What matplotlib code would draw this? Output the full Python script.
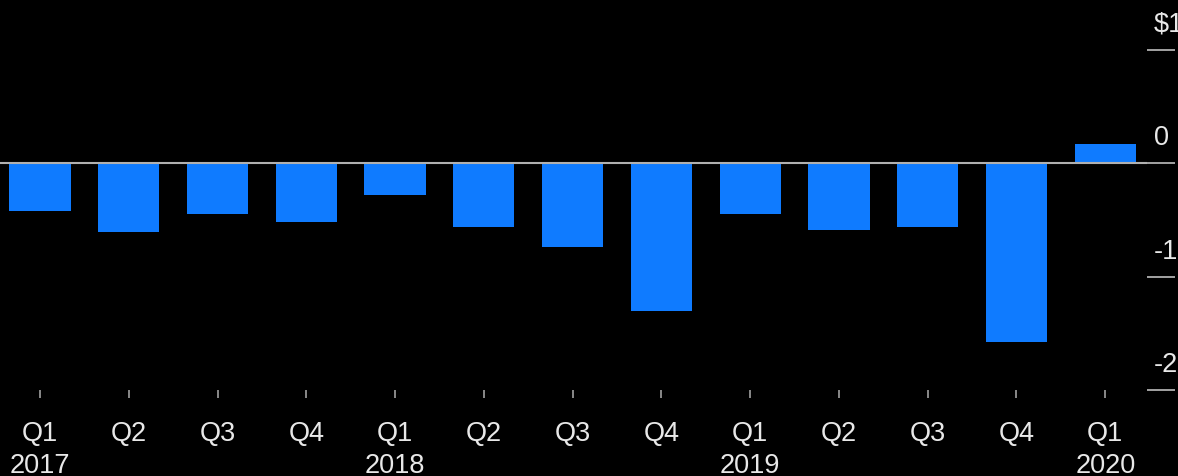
import numpy as np
import matplotlib.pyplot as plt

plt.rcParams['font.family'] = ['Liberation Sans', 'DejaVu Sans']

# 季度标签与数值（每股收益，美元）
quarters = ['Q1', 'Q2', 'Q3', 'Q4', 'Q1', 'Q2', 'Q3', 'Q4',
            'Q1', 'Q2', 'Q3', 'Q4', 'Q1']
years = ['2017', '', '', '', '2018', '', '', '', '2019', '', '', '', '2020']
values = [-0.42, -0.61, -0.45, -0.52, -0.28, -0.56, -0.74, -1.30,
          -0.45, -0.59, -0.56, -1.58, 0.17]
y_ticks = [1, 0, -1, -2]
y_labels = ['$1', '0', '-1', '-2']

fig = plt.figure(figsize=(11.78, 4.76), dpi=100, facecolor='black')
ax = fig.add_axes([0, 1 - 390 / 476, 1147 / 1178, 340 / 476])
ax.set_facecolor('black')

x = np.arange(len(values))
ax.bar(x, values, width=0.69, color='#0f7bff', zorder=2)
ax.axhline(0, color='#b0b0b0', lw=1.5, zorder=3)

ax.set_xlim(-0.45, 12.47)
ax.set_ylim(-2, 1)

for s in ax.spines.values():
    s.set_visible(False)

ax.set_xticks(x)
ax.set_xticklabels([q + '\n' + y for q, y in zip(quarters, years)],
                   color='#e8e8e8', fontsize=19.5, linespacing=1.3)
ax.tick_params(axis='x', direction='out', length=6, width=1.2,
               color='#a0a0a0', pad=16)

ax.yaxis.tick_right()
ax.set_yticks(y_ticks)
ax.set_yticklabels([])
ax.tick_params(axis='y', direction='out', length=20, width=1.3,
               color='#b0b0b0', pad=0)

for v, lab in zip(y_ticks, y_labels):
    ax.annotate(lab, xy=(1, v), xycoords=('axes fraction', 'data'),
                xytext=(5, 18), textcoords='offset points',
                ha='left', va='center', color='#e8e8e8', fontsize=19.5,
                annotation_clip=False)

fig.savefig('out.png', dpi=100, facecolor='black')
